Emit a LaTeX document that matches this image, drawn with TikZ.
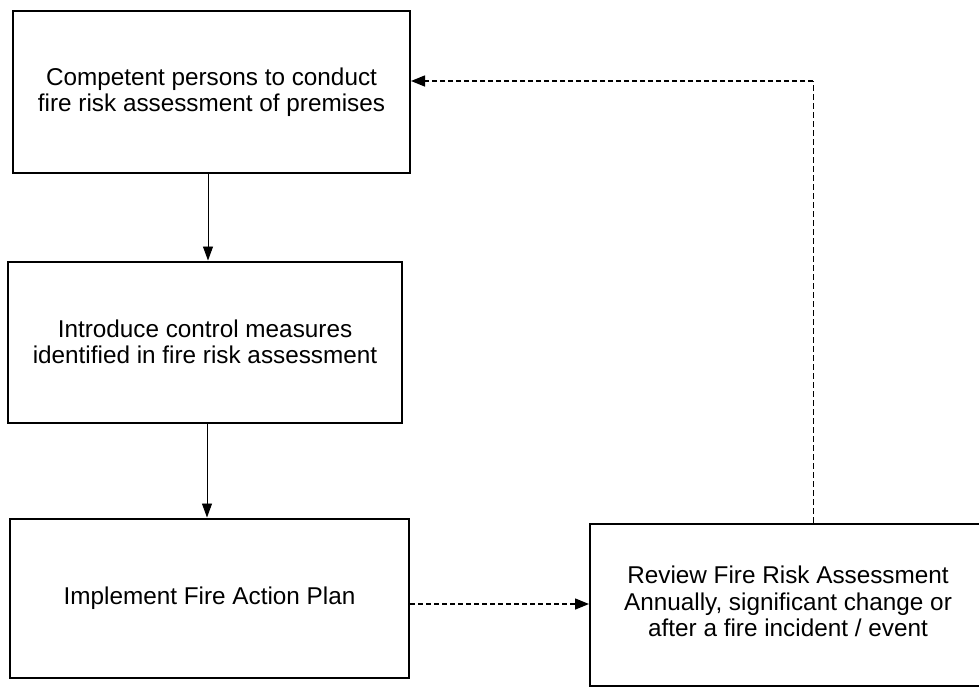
\documentclass[tikz,border=0pt]{standalone}
\usepackage{fontspec}
\setmainfont{Liberation Sans}
\usetikzlibrary{arrows.meta}
\begin{document}
\begin{tikzpicture}[x=1pt,y=-1pt,
  stagebox/.style={draw=black, line width=2pt, rectangle, align=center,
    inner sep=0pt, font=\fontsize{24.3}{26.5}\selectfont},
  flowarrow/.style={line width=0.9pt, -{Triangle[length=14pt,width=10pt]}},
  dasharrow/.style={line width=1.5pt, dash pattern=on 5pt off 3pt,
    -{Triangle[length=14pt,width=11pt]}},
  returnline/.style={line width=1pt, dash pattern=on 6pt off 3pt}]
  \useasboundingbox (0,0) rectangle (979,686);

  % process stages
  \node[stagebox, minimum width=397pt, minimum height=162pt] (assess) at (211.5,92)
    {Competent persons to conduct\\fire risk assessment of premises};
  \node[stagebox, minimum width=394pt, minimum height=161pt] (control) at (205,342)
    {Introduce control measures\\identified in fire risk assessment};
  \node[stagebox, minimum width=399pt, minimum height=159pt] (plan) at (209.5,598)
    {Implement Fire Action Plan};
  % the review box runs past the right edge of the sheet
  \node[stagebox, anchor=west, minimum width=440pt, minimum height=162pt] (review) at (589,605)
    {\begin{tabular}{@{}c@{}}Review Fire Risk Assessment\\Annually, significant change or\\after a fire incident / event\end{tabular}\hspace{44pt}};

  % forward flow
  \draw[flowarrow] (assess.south -| 208,0) -- (control.north -| 208,0);
  \draw[flowarrow] (control.south -| 207,0) -- (plan.north -| 207,0);
  \draw[dasharrow] (plan.east |- 0,604) -- (review.west |- 0,604);

  % feedback loop back to the assessment
  \coordinate (corner) at (813,81);
  \draw[returnline] (review.north -| corner) -- (corner);
  \draw[dasharrow] (corner) -- (assess.east |- corner);
\end{tikzpicture}
\end{document}
